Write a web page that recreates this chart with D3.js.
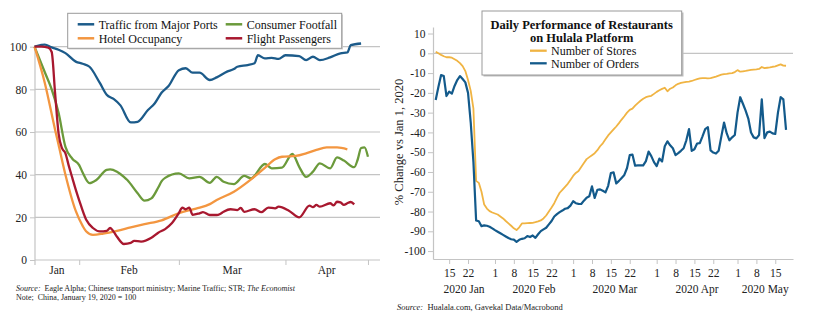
<!DOCTYPE html>
<html>
<head>
<meta charset="utf-8">
<script src="https://cdn.jsdelivr.net/npm/d3@7"></script>
<style>
  body { margin: 0; background: #fff; }
  svg { display: block; font-family: "Liberation Serif", "Times New Roman", serif; }
  .axis path, .axis line { stroke: #c4c4c4; }
  .axis text { fill: #222; font-size: 11.5px; font-family: "Liberation Serif", serif; }
</style>
</head>
<body>
<svg id="viz"></svg>
<script>
var width = 815;
var height = 328;

// ---- left panel: China activity, Jan 19 2020 = 100 ----
var portsData = [
  ["01-19", 100], ["01-21", 100.8], ["01-22", 101], ["01-24", 99.7], ["01-26", 98.6],
  ["01-28", 97], ["01-31", 93], ["02-02", 92], ["02-04", 90.6], ["02-07", 83],
  ["02-09", 77.5], ["02-11", 75.5], ["02-13", 72.5], ["02-16", 64.5], ["02-18", 64.8],
  ["02-21", 70.3], ["02-23", 73.5], ["02-25", 78.5], ["02-27", 81.6], ["03-01", 89],
  ["03-03", 89.9], ["03-05", 87.8], ["03-07", 87.8], ["03-10", 84.4], ["03-12", 85.6],
  ["03-15", 88.3], ["03-17", 89.5], ["03-18", 90.6], ["03-21", 91.4], ["03-23", 92.2],
  ["03-24", 96], ["03-26", 94.5], ["03-28", 94.8], ["03-30", 94.3], ["04-01", 96],
  ["04-05", 95.6], ["04-07", 93.7], ["04-09", 95.3], ["04-11", 93.7], ["04-14", 95],
  ["04-17", 96.9], ["04-19", 97.3], ["04-20", 100.7], ["04-23", 101.5]
];
var footfallData = [
  ["01-19", 100], ["01-22", 88], ["01-24", 80], ["01-26", 69], ["01-28", 53],
  ["01-30", 47.5], ["02-01", 44.5], ["02-02", 41], ["02-04", 36], ["02-06", 37.5],
  ["02-09", 42.3], ["02-10", 42.5], ["02-12", 41.4], ["02-14", 39], ["02-15", 37.5],
  ["02-18", 31.3], ["02-20", 27.8], ["02-22", 28.9], ["02-24", 34], ["02-25", 37],
  ["02-26", 38.5], ["03-01", 40.6], ["03-04", 38.3], ["03-07", 39], ["03-10", 36.2],
  ["03-12", 39], ["03-14", 36.7], ["03-17", 35.6], ["03-20", 39.4], ["03-22", 38.3],
  ["03-26", 45], ["03-28", 43], ["03-31", 43.3], ["04-03", 49.7], ["04-05", 43.7],
  ["04-07", 39], ["04-09", 41.4], ["04-11", 45.3], ["04-14", 43], ["04-16", 48.1],
  ["04-18", 46.6], ["04-21", 43.5], ["04-22", 47], ["04-23", 52.5], ["04-24", 52.8],
  ["04-25", 48.4]
];
var hotelData = [
  ["01-19", 100], ["01-22", 83], ["01-25", 61], ["01-26", 54], ["01-28", 40],
  ["01-31", 23], ["02-02", 16], ["02-03", 13.5], ["02-05", 11.8], ["02-08", 12.4],
  ["02-12", 13.7], ["02-16", 15.3], ["02-20", 16.8], ["02-25", 18.6], ["03-01", 22],
  ["03-06", 24.1], ["03-10", 26.2], ["03-12", 28.1], ["03-17", 32], ["03-22", 37.8],
  ["03-26", 43.2], ["03-29", 47.2], ["03-31", 48.4], ["04-04", 48.8], ["04-07", 50],
  ["04-10", 51.6], ["04-13", 52.8], ["04-16", 52.8], ["04-19", 51.9]
];
var flightsData = [
  ["01-19", 100], ["01-21", 100], ["01-23", 99.6], ["01-24", 97.5], ["01-25", 78],
  ["01-26", 59.4], ["01-27", 52.4], ["01-28", 50], ["01-29", 44], ["01-30", 38.5],
  ["01-31", 33], ["02-01", 28], ["02-03", 19], ["02-05", 15], ["02-07", 13.4],
  ["02-09", 13.7], ["02-10", 15], ["02-11", 13.3], ["02-12", 10.9], ["02-14", 7.5],
  ["02-16", 8], ["02-17", 9], ["02-19", 8.6], ["02-22", 10.4], ["02-24", 12.8],
  ["02-26", 14.5], ["02-28", 17.3], ["03-01", 22], ["03-02", 24.5], ["03-03", 23.8],
  ["03-04", 24.6], ["03-05", 21.2], ["03-07", 21.9], ["03-08", 22.4], ["03-10", 21.1],
  ["03-12", 21.1], ["03-13", 21.6], ["03-14", 22.6], ["03-16", 23.8], ["03-18", 23.4],
  ["03-19", 24.4], ["03-20", 22.6], ["03-23", 23.8], ["03-25", 22.4], ["03-27", 24.6],
  ["03-29", 24.2], ["03-30", 25], ["04-02", 23.1], ["04-05", 20], ["04-08", 25.5],
  ["04-09", 24.8], ["04-10", 25.8], ["04-11", 25], ["04-14", 26.6], ["04-15", 25.6],
  ["04-16", 27.3], ["04-17", 27], ["04-18", 25.8], ["04-19", 26.6], ["04-20", 27.2],
  ["04-21", 26.1]
];
var leftSeries = [
  { name: "Traffic from Major Ports", color: "#1c5b8a", data: portsData },
  { name: "Hotel Occupancy", color: "#f39640", data: hotelData },
  { name: "Consumer Footfall", color: "#6b9a3b", data: footfallData },
  { name: "Flight Passengers", color: "#a8182f", data: flightsData }
];
var leftYTicks = [0, 20, 40, 60, 80, 100];
var leftMonthTicks = ["01-19", "02-01", "03-01", "04-01", "04-25"];
var leftMonthLabels = ["Jan", "Feb", "Mar", "Apr"];

// ---- right panel: Hualala restaurants, % change vs Jan 1 2020 ----
var restaurantStart = "2020-01-10";
var storesValues = [
  0.8, 0, -0.8, -1.5, -2, -2, -2.2, -3, -3.8, -5, -6.5, -9, -13.5, -19, -28,
  -64.5, -65.5, -70, -76.5, -78.5, -79.8, -80.5, -81, -81.5, -82.5, -83.5, -84.8, -86, -87.2, -88.5,
  -89.4, -88, -86, -86, -85.9, -85.8, -85.7, -85.4, -85, -84.5, -83.5, -82, -80, -78, -75.8,
  -73, -70.5, -69, -67.5, -66, -64, -62, -60.5, -59.5, -57.5, -55.5, -53.5, -52.5, -51.5, -50.5,
  -49, -47, -45.5, -43.5, -41.5, -40, -38.5, -37, -35.3, -33.5, -31.8, -30, -28.6, -28, -26.5,
  -25.2, -24, -23, -22.2, -21.8, -21.5, -20.5, -19.5, -18.7, -18, -17.4, -19.2, -17.9, -17.3, -16.2,
  -15.4, -15, -14.7, -14.5, -14.3, -14, -13.5, -13.1, -12.7, -12.5, -12.6, -12.7, -12.6, -12.2, -11.8,
  -11.3, -10.8, -10.5, -10.4, -10.2, -10, -9.5, -8.5, -9.3, -9.1, -8.9, -8.6, -8.4, -8.2, -8.1,
  -7.9, -6.9, -7.5, -7.3, -7.1, -6.8, -6.6, -6.1, -5.6, -6.2, -6.3
];
var ordersValues = [
  -23.6, -17, -11, -11.5, -21.6, -19.4, -20.4, -16.5, -13.5, -11.5, -13, -14.7, -20, -35, -55,
  -84.5, -84.9, -87.4, -87, -87.2, -87.7, -88.5, -89.4, -90.2, -91, -91.8, -92.6, -93.4, -94, -94.2,
  -95.3, -94.3, -93.8, -93.5, -92.4, -92.9, -92.1, -93.3, -91.5, -89.9, -89, -88.2, -86.5, -84.8, -82.5,
  -81.3, -80.3, -79.5, -78.6, -78.3, -77, -74.8, -75.8, -76.1, -76.2, -74.5, -73, -72.3, -67.3, -73.1,
  -69, -68.8, -69.5, -70.3, -67, -60.5, -60.2, -65.8, -64.5, -63, -61.5, -58, -51.5, -51.2, -56.8,
  -56.7, -56.7, -56.7, -54.5, -49.7, -52, -55, -57, -53.2, -54.7, -47, -44.5, -46.5, -48, -51.5,
  -50.5, -49.3, -48, -44, -38.3, -49.3, -48.5, -45.6, -45.4, -42, -38.3, -37.3, -49.1, -50.2, -50.7,
  -49.3, -42, -35, -40.5, -44, -42.5, -41.3, -30, -22.2, -25.5, -29, -33, -40, -42.5, -43,
  -41.3, -23.3, -42.9, -40, -39.6, -40.5, -40.8, -30, -22.2, -23.3, -38.7
];
var rightSeries = [
  { name: "Number of Stores", color: "#f0b443", values: storesValues },
  { name: "Number of Orders", color: "#135a8b", values: ordersValues }
];
var rightYTicks = [10, 0, -10, -20, -30, -40, -50, -60, -70, -80, -90, -100];
var rightDayTicks = [
  "2020-01-15", "2020-01-22", "2020-02-01", "2020-02-08", "2020-02-15", "2020-02-22",
  "2020-03-01", "2020-03-08", "2020-03-15", "2020-03-22", "2020-04-01", "2020-04-08",
  "2020-04-15", "2020-04-22", "2020-05-01", "2020-05-08", "2020-05-15"
];
var rightMonthLabels = ["2020 Jan", "2020 Feb", "2020 Mar", "2020 Apr", "2020 May"];

var parseMD = function (s) { return d3.timeParse("%Y-%m-%d")("2020-" + s); };
var parseDay = d3.timeParse("%Y-%m-%d");

var svg = d3.select("#viz").attr("width", width).attr("height", height);

// ================= left panel =================
var xL = d3.scaleTime()
  .domain([parseMD("01-19"), d3.timeHour.offset(parseMD("04-28"), 12)])
  .range([34.5, 380]);
var yL = d3.scaleLinear().domain([0, 100]).range([260, 46.7]);

var left = svg.append("g");

// horizontal gridlines
left.append("g").selectAll("line")
  .data(leftYTicks.filter(function (d) { return d > 0; }))
  .enter().append("line")
  .attr("x1", 35).attr("x2", 380)
  .attr("y1", function (d) { return yL(d); })
  .attr("y2", function (d) { return yL(d); })
  .attr("stroke", "#c4c4c4").attr("stroke-width", 1.2);

// y axis
var yAxisL = left.append("g").attr("class", "axis").attr("transform", "translate(35,0)")
  .call(d3.axisLeft(yL).tickValues(leftYTicks).tickSize(5).tickPadding(3).tickSizeOuter(0));
yAxisL.select(".domain").remove();
left.append("line")
  .attr("x1", 35).attr("x2", 35).attr("y1", yL(100)).attr("y2", yL(0) + 5)
  .attr("stroke", "#c4c4c4").attr("stroke-width", 1.2);

// x axis: month boundaries with labels centred between them
var monthDates = leftMonthTicks.map(parseMD);
var xAxisL = left.append("g").attr("class", "axis").attr("transform", "translate(0," + yL(0) + ")")
  .call(d3.axisBottom(xL).tickValues(monthDates.slice(1)).tickSize(5).tickFormat("").tickSizeOuter(0));
xAxisL.select(".domain").attr("d", "M35,0H380").attr("stroke-width", 1.2);

left.append("g").selectAll("text")
  .data(leftMonthLabels)
  .enter().append("text")
  .attr("x", function (d, i) { return (xL(monthDates[i]) + xL(monthDates[i + 1])) / 2; })
  .attr("y", 274)
  .attr("text-anchor", "middle")
  .attr("font-size", "11.5px")
  .attr("fill", "#222")
  .text(function (d) { return d; });

var lineL = d3.line()
  .x(function (d) { return xL(parseMD(d[0])); })
  .y(function (d) { return yL(d[1]); })
  .curve(d3.curveMonotoneX);

left.append("g").selectAll("path")
  .data([leftSeries[0], leftSeries[2], leftSeries[1], leftSeries[3]])
  .enter().append("path")
  .attr("fill", "none")
  .attr("stroke", function (d) { return d.color; })
  .attr("stroke-width", 2.3)
  .attr("stroke-linejoin", "round")
  .attr("d", function (d) { return lineL(d.data); });

// legend box
var legL = left.append("g");
legL.append("rect").attr("x", 69).attr("y", 14.5).attr("width", 274).attr("height", 35).attr("fill", "#d0d0d0");
legL.append("rect").attr("x", 67.7).attr("y", 13.3).attr("width", 274).attr("height", 35)
  .attr("fill", "#fff").attr("stroke", "#9a9a9a").attr("stroke-width", 1);
var legPos = [[77.7, 24.3], [77.7, 38.3], [225.7, 24.3], [225.7, 38.3]];
var legItems = legL.selectAll("g.item")
  .data(leftSeries)
  .enter().append("g")
  .attr("transform", function (d, i) { return "translate(" + legPos[i][0] + "," + legPos[i][1] + ")"; });
legItems.append("line")
  .attr("x1", 0).attr("x2", 16.5)
  .attr("stroke", function (d) { return d.color; })
  .attr("stroke-width", 2.5);
legItems.append("text")
  .attr("x", 21)
  .attr("dy", "0.35em")
  .attr("font-size", "12px")
  .attr("fill", "#111")
  .text(function (d) { return d.name; });

// source notes
var srcL = left.append("text").attr("x", 16).attr("y", 290.5).attr("font-size", "8px").attr("fill", "#222");
srcL.append("tspan").attr("font-style", "italic").text("Source:");
srcL.append("tspan").text("\u00a0 Eagle Alpha; Chinese transport ministry; Marine Traffic; STR; ");
srcL.append("tspan").attr("font-style", "italic").text("The Economist");
left.append("text").attr("x", 16).attr("y", 299.5).attr("font-size", "8px").attr("fill", "#222")
  .text("Note;\u00a0 China, January 19, 2020 = 100");

// ================= right panel =================
var xR = d3.scaleTime()
  .domain([parseDay("2020-01-09"), d3.timeHour.offset(parseDay("2020-05-21"), 14)])
  .range([433, 793]);
var yR = d3.scaleLinear().domain([-104, 13.3]).range([259, 27]);

var right = svg.append("g");

right.append("line")
  .attr("x1", 433).attr("x2", 793).attr("y1", yR(0)).attr("y2", yR(0))
  .attr("stroke", "#c4c4c4").attr("stroke-width", 1.2);

var yAxisR = right.append("g").attr("class", "axis").attr("transform", "translate(433,0)")
  .call(d3.axisLeft(yR).tickValues(rightYTicks).tickSize(5).tickPadding(2.5)
    .tickFormat(function (d) { return String(d); }).tickSizeOuter(0));
yAxisR.select(".domain").attr("stroke-width", 1.2);

var dayDates = rightDayTicks.map(parseDay);
var xAxisR = right.append("g").attr("class", "axis").attr("transform", "translate(0,259)")
  .call(d3.axisBottom(xR).tickValues(dayDates).tickSize(5).tickPadding(5)
    .tickFormat(d3.timeFormat("%-d")).tickSizeOuter(0));
xAxisR.select(".domain").attr("stroke-width", 1.2);

// month/year labels centred on the visible part of each month
var monthStarts = d3.timeMonth.range(parseDay("2020-01-01"), parseDay("2020-07-01"));
right.append("g").selectAll("text")
  .data(rightMonthLabels)
  .enter().append("text")
  .attr("x", function (d, i) {
    var a = Math.max(xR(monthStarts[i]), xR.range()[0]);
    var b = Math.min(xR(monthStarts[i + 1]), xR.range()[1]);
    return (a + b) / 2;
  })
  .attr("y", 293)
  .attr("text-anchor", "middle")
  .attr("font-size", "11.5px")
  .attr("fill", "#222")
  .text(function (d) { return d; });

right.append("text")
  .attr("transform", "translate(403,142) rotate(-90)")
  .attr("text-anchor", "middle")
  .attr("font-size", "12.5px")
  .attr("fill", "#222")
  .text("% Change vs Jan 1, 2020");

var startDay = parseDay(restaurantStart);
var lineR = d3.line()
  .x(function (d, i) { return xR(d3.timeDay.offset(startDay, i)); })
  .y(function (d) { return yR(d); });

right.append("g").selectAll("path")
  .data(rightSeries)
  .enter().append("path")
  .attr("fill", "none")
  .attr("stroke", function (d) { return d.color; })
  .attr("stroke-width", function (d, i) { return i ? 2.2 : 1.8; })
  .attr("stroke-linejoin", "round")
  .attr("d", function (d) { return lineR(d.values); });

// legend with title
var legR = right.append("g");
legR.append("rect").attr("x", 483.5).attr("y", 12.5).attr("width", 200).attr("height", 64).attr("fill", "#bdbdbd");
legR.append("rect").attr("x", 482).attr("y", 11).attr("width", 199.7).attr("height", 64)
  .attr("fill", "#fff").attr("stroke", "#9a9a9a").attr("stroke-width", 1);
legR.append("text").attr("x", 581.7).attr("y", 24.3).attr("dy", "0.35em")
  .attr("text-anchor", "middle").attr("font-weight", "bold").attr("font-size", "12.5px").attr("fill", "#111")
  .text("Daily Performance of Restaurants");
legR.append("text").attr("x", 581.7).attr("y", 37.7).attr("dy", "0.35em")
  .attr("text-anchor", "middle").attr("font-weight", "bold").attr("font-size", "12.5px").attr("fill", "#111")
  .text("on Hulala Platform");
var legRItems = legR.selectAll("g.item")
  .data(rightSeries)
  .enter().append("g")
  .attr("transform", function (d, i) { return "translate(0," + (50.7 + i * 12.6) + ")"; });
legRItems.append("line")
  .attr("x1", 530).attr("x2", 546.7)
  .attr("stroke", function (d) { return d.color; })
  .attr("stroke-width", 2.3);
legRItems.append("text")
  .attr("x", 551).attr("dy", "0.35em")
  .attr("font-size", "12px").attr("fill", "#111")
  .text(function (d) { return d.name; });

var srcR = right.append("text").attr("x", 397).attr("y", 310).attr("font-size", "8.5px").attr("fill", "#222");
srcR.append("tspan").attr("font-style", "italic").text("Source:");
srcR.append("tspan").text("\u00a0 Hualala.com, Gavekal Data/Macrobond");
</script>
</body>
</html>
